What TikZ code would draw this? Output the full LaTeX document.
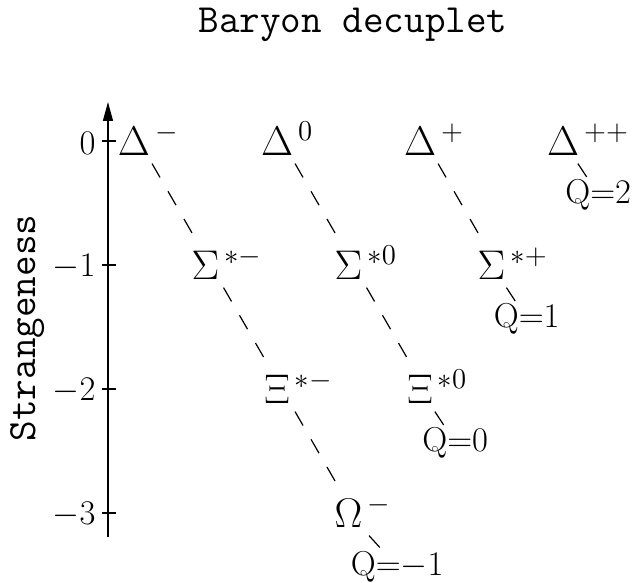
\documentclass[tikz,border=0pt]{standalone}
\usepackage{tikz}
\usetikzlibrary{arrows.meta, positioning}

\newcommand{\chg}[1]{\rlap{\smash{\kern2.5pt$^{#1}$}}}

\tikzset{
    particle/.style = {inner sep=4pt, font=\fontsize{21}{25}\selectfont},
    qlabel/.style = {inner sep=1pt, anchor=base west, font=\fontsize{18}{21}\selectfont},
    ticklabel/.style = {inner sep=0pt, font=\fontsize{17}{20}\selectfont},
    headline/.style = {anchor=base, font=\ttfamily\fontsize{20}{24}\selectfont},
    axislabel/.style = {anchor=base, rotate=90, font=\ttfamily\fontsize{20}{24}\selectfont},
    axis/.style = {line width=0.6pt},
    qconn/.style = {line width=0.6pt, dash pattern=on 8pt off 8pt},
    conn/.style = {qconn, transform canvas={xshift=2.5pt}}
}

\begin{document}
\begin{tikzpicture}[x=71.5pt, y=62pt]
\useasboundingbox (-0.937,1.137) rectangle (3.517,-3.556);

\node (ttl) [headline] at (1.531,0.871) {Baryon decuplet};
\node (slbl) [axislabel] at (-0.692,-1.508) {Strangeness};

% strangeness axis
\coordinate (axbot) at (-0.182,-3.19);
\coordinate (axtop) at (-0.182,0.315);
\draw [axis, -{Triangle[length=9.5pt, width=5pt]}] (axbot) -- (axtop);
\foreach \s/\n in {0/0, -1/1, -2/2, -3/3} {
    \coordinate (tk\n) at (-0.182,\s);
    \draw [axis] ([xshift=-3pt]tk\n) -- ([xshift=4pt]tk\n);
    \node (tl\n) [ticklabel, left=6pt of tk\n, yshift=-1pt] {$\s$};
}

% particles
\node (dm) [particle] at (0,0) {$\Delta\chg{-}$};
\node (d0) [particle] at (1,0) {$\Delta\chg{0}$};
\node (dp) [particle] at (2,0) {$\Delta\chg{+}$};
\node (dpp) [particle] at (3,0) {$\Delta\chg{++}$};
\node (sm) [particle] at (0.5,-1) {$\Sigma\chg{*-}$};
\node (s0) [particle] at (1.5,-1) {$\Sigma\chg{*0}$};
\node (sp) [particle] at (2.5,-1) {$\Sigma\chg{*+}$};
\node (xm) [particle] at (1,-2) {$\Xi\chg{*-}$};
\node (x0) [particle] at (2,-2) {$\Xi\chg{*0}$};
\node (om) [particle] at (1.5,-3) {$\Omega\chg{-}$};

% charge labels
\node (qm) [qlabel] at (1.5,-3.5) {$\mathrm{Q}{=}{-}1$};
\node (q0) [qlabel] at (2,-2.5) {$\mathrm{Q}{=}0$};
\node (qp) [qlabel] at (2.5,-1.5) {$\mathrm{Q}{=}1$};
\node (qpp) [qlabel] at (3,-0.5) {$\mathrm{Q}{=}2$};

\draw [conn] (dm) -- (sm);
\draw [conn] (sm) -- (xm);
\draw [conn] (xm) -- (om);
\draw [qconn] (om) -- (qm);
\draw [conn] (d0) -- (s0);
\draw [conn] (s0) -- (x0);
\draw [qconn] (x0) -- (q0);
\draw [conn] (dp) -- (sp);
\draw [qconn] (sp) -- (qp);
\draw [qconn] (dpp) -- (qpp);
\end{tikzpicture}
\end{document}
